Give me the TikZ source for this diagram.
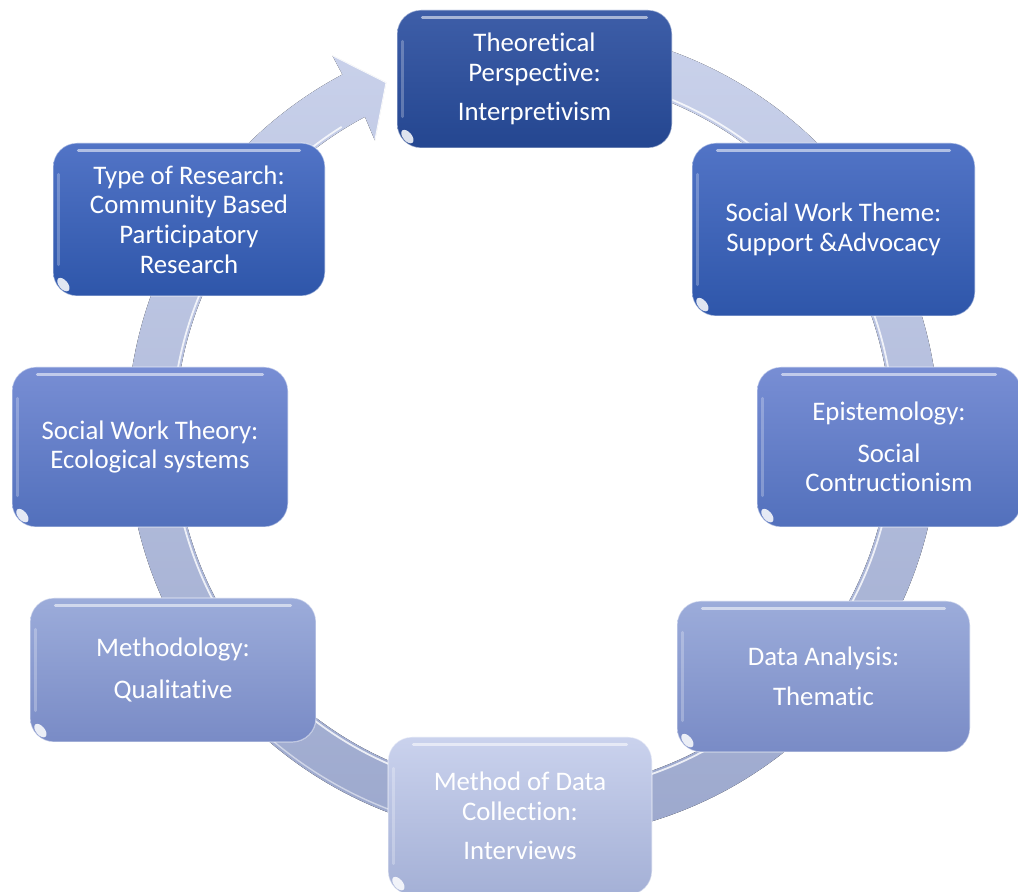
\documentclass[tikz,border=0pt]{standalone}
\usepackage{fontspec}
\setmainfont{Carlito}[Ligatures=NoCommon]
\usetikzlibrary{calc}

% fill colours of the eight stages, darkest to lightest
\definecolor{tonea}{RGB}{62,94,168}
\definecolor{toneab}{RGB}{36,70,144}
\definecolor{toneb}{RGB}{82,116,198}
\definecolor{tonebb}{RGB}{46,86,170}
\definecolor{tonec}{RGB}{120,142,212}
\definecolor{tonecb}{RGB}{82,112,188}
\definecolor{toned}{RGB}{156,172,218}
\definecolor{tonedb}{RGB}{121,139,198}
\definecolor{tonee}{RGB}{202,210,237}
\definecolor{toneeb}{RGB}{164,176,214}
\definecolor{ringtop}{RGB}{202,210,235}
\definecolor{ringbot}{RGB}{156,168,205}

\tikzset{
  stage/.style={rounded corners=12pt, draw=white, draw opacity=0.45,
    line width=0.6pt, text=white, align=center, inner sep=0pt,
    font=\fontsize{13.4pt}{14.8pt}\selectfont},
  gloss/.style={white, opacity=0.55, line width=1.6pt, line cap=round},
  sidegloss/.style={white, opacity=0.25, line width=1.6pt, line cap=round},
  corner/.style={white, opacity=0.85}
}

\begin{document}
\begin{tikzpicture}[x=0.5pt, y=0.5pt]
  \useasboundingbox (0,0) rectangle (1018,892);
  \coordinate (c) at (533,459);

  % circular arrow running clockwise behind the stages
  \fill[top color=ringtop, bottom color=ringbot]
    ($(c)+(90:203pt)$) arc[start angle=90, end angle=-242, radius=203pt]
    -- ($(c)+(-242:214pt)$)
    -- ($(c)+(-247.3:190pt)$)
    -- ($(c)+(-241.6:166pt)$)
    -- ($(c)+(-242:179pt)$)
    arc[start angle=-242, end angle=90, radius=179pt] -- cycle;
  \draw[white, opacity=0.8, line width=0.9pt]
    ($(c)+(85:180.5pt)$) arc[start angle=85, end angle=-238, radius=180.5pt];
  \draw[white, opacity=0.5, line width=0.7pt]
    ($(c)+(-150:201.5pt)$) arc[start angle=-150, end angle=-110, radius=201.5pt];
  \draw[white, opacity=0.9, line width=0.8pt, line join=round]
    ($(c)+(-242:214pt)$) -- ($(c)+(-247.3:190pt)$) -- ($(c)+(-241.6:166pt)$);

  % the eight stages
  \node[stage, top color=tonea, bottom color=toneab,
        minimum width=137.5pt, minimum height=69pt] (tp) at (534.5,813)
    {Theoretical\\Perspective:\\[5pt]Interpretivism};
  \node[stage, top color=toneb, bottom color=tonebb,
        minimum width=141.5pt, minimum height=86.5pt] (swt) at (833.5,662.5)
    {Social Work Theme:\\Support \&Advocacy};
  \node[stage, top color=tonec, bottom color=tonecb,
        minimum width=132pt, minimum height=80pt] (epi) at (889,445)
    {Epistemology:\\[6pt]Social\\Contructionism};
  \node[stage, top color=toned, bottom color=tonedb,
        minimum width=146.5pt, minimum height=75.5pt] (da) at (823.5,215.5)
    {Data Analysis:\\[5pt]Thematic};
  \node[stage, top color=tonee, bottom color=toneeb,
        minimum width=132pt, minimum height=79pt] (mdc) at (520,76)
    {Method of Data\\Collection:\\[5pt]Interviews};
  \node[stage, top color=toned, bottom color=tonedb,
        minimum width=143pt, minimum height=72pt] (meth) at (173,222)
    {Methodology:\\[6pt]Qualitative};
  \node[stage, top color=tonec, bottom color=tonecb,
        minimum width=138pt, minimum height=80pt] (swth) at (150,445)
    {Social Work Theory:\\Ecological systems};
  \node[stage, top color=toneb, bottom color=tonebb,
        minimum width=136pt, minimum height=76.5pt] (tor) at (189,672.5)
    {Type of Research:\\Community Based\\Participatory\\Research};

  % glossy bevel on every stage
  \foreach \n in {tp,swt,epi,da,mdc,meth,swth,tor} {
    \draw[gloss] ([xshift=13pt,yshift=-4pt]\n.north west)
      -- ([xshift=-13pt,yshift=-4pt]\n.north east);
    \draw[sidegloss] ([xshift=3pt,yshift=-16pt]\n.north west)
      -- ([xshift=3pt,yshift=16pt]\n.south west);
    \fill[corner] ([xshift=5.5pt,yshift=6pt]\n.south west)
      ellipse[x radius=4pt, y radius=2.2pt, rotate=-50];
  }
\end{tikzpicture}
\end{document}
